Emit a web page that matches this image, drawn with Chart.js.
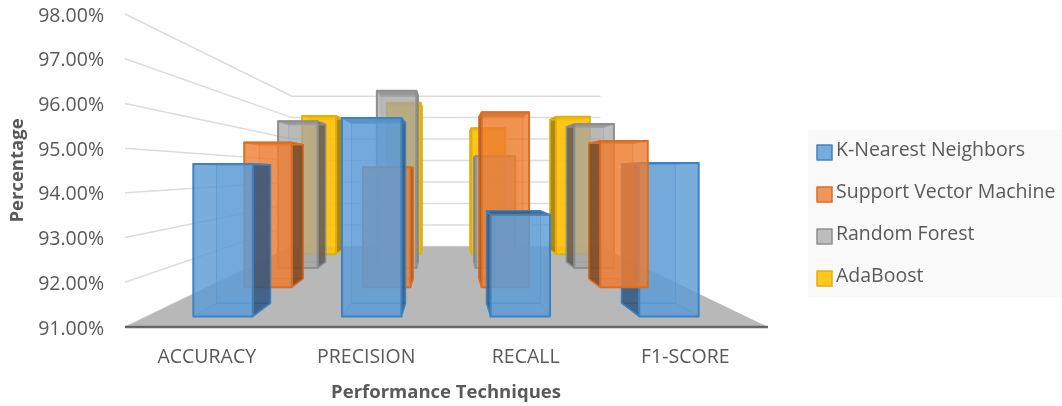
<!DOCTYPE html>
<html>
<head>
<meta charset="utf-8">
<title>Performance Techniques</title>
<style>
  html, body { margin: 0; padding: 0; background: #fff; }
  canvas { display: block; }
</style>
<script src="https://cdn.jsdelivr.net/npm/chart.js@4/dist/chart.umd.min.js"></script>
</head>
<body>
<canvas id="chart" width="1062" height="406"></canvas>
<script>
// Scores in percent, one array per classifier
var categories = ["ACCURACY", "PRECISION", "RECALL", "F1-SCORE"];
var knn = [94.66, 95.76, 93.44, 94.68];
var svm = [95.35, 94.61, 96.26, 95.40];
var randomForest = [96.30, 97.40, 95.04, 96.20];
var adaBoost = [96.83, 97.39, 96.31, 96.80];
var yMin = 91, yMax = 98;

var FONT = "'Open Sans', sans-serif";
var TEXT = "#595959";

// Camera: vanishing point and how fast things shrink with depth (z 0 = front, 1 = back)
var VX = 446, VY = 172, K = 1.083;
function project(x, y, z) {
    var s = 1 / (1 + K * z);
    return [VX + (x - VX) * s, VY + (y - VY) * s];
}

function poly(ctx, pts, fill, stroke, lw) {
    ctx.beginPath();
    pts.forEach(function (p, i) { i ? ctx.lineTo(p[0], p[1]) : ctx.moveTo(p[0], p[1]); });
    ctx.closePath();
    if (fill) { ctx.fillStyle = fill; ctx.fill(); }
    if (stroke) { ctx.strokeStyle = stroke; ctx.lineWidth = lw; ctx.lineJoin = "round"; ctx.stroke(); }
}

// Bars that sit on top of the nearer row: [dataset, category]
var drawnLast = [[1, 3]];

function drawBox(ctx, bar, row, o) {
    var x0 = bar.x - bar.width / 2, x1 = bar.x + bar.width / 2;
    var z0 = (row + 0.27) / 4, z1 = (row + 0.67) / 4;
    var top = bar.y, bot = bar.base;
    var f = function (x, y) { return project(x, y, z0); };
    var b = function (x, y) { return project(x, y, z1); };

    // back and floor of the box stay faint, they show through the front
    poly(ctx, [b(x0, top), b(x1, top), b(x1, bot), b(x0, bot)], o.back, o.inner, 1);
    poly(ctx, [f(x0, bot), f(x1, bot), b(x1, bot), b(x0, bot)], o.back, o.inner, 1);

    // only the side facing the centre can be seen
    var sx = bar.x < VX ? x1 : x0;
    poly(ctx, [f(sx, top), b(sx, top), b(sx, bot), f(sx, bot)], o.side, o.line, 1.5);
    poly(ctx, [f(x0, top), f(x1, top), b(x1, top), b(x0, top)], o.side, o.line, 1.5);
    poly(ctx, [f(x0, top), f(x1, top), f(x1, bot), f(x0, bot)], o.front, o.line, 2);
}

var faces = [
    { front: "rgba(91,155,213,0.82)", side: "rgba(38,78,120,0.78)", back: "rgba(91,155,213,0.2)", inner: "rgba(50,115,180,0.55)", line: "#3f82c0" },
    { front: "rgba(237,125,49,0.8)", side: "rgba(120,62,22,0.8)", back: "rgba(237,125,49,0.2)", inner: "rgba(220,100,30,0.5)", line: "#d96f26" },
    { front: "rgba(165,165,165,0.72)", side: "rgba(85,85,85,0.8)", back: "rgba(165,165,165,0.2)", inner: "rgba(130,130,130,0.4)", line: "#8f8f8f" },
    { front: "rgba(255,192,0,0.88)", side: "rgba(165,125,0,0.9)", back: "rgba(255,192,0,0.2)", inner: "rgba(220,165,0,0.5)", line: "#e3ae10" }
];

// Bar controller that keeps the library's layout but paints each element as a box in depth
class Bar3DController extends Chart.BarController {
    static id = "bar3d";
    static defaults = Chart.BarController.defaults;
    static overrides = Chart.BarController.overrides;
    draw() {
        var ctx = this.chart.ctx, row = this.index;
        this._cachedMeta.data.forEach(function (bar, i) {
            var late = drawnLast.some(function (d) { return d[0] === row && d[1] === i; });
            if (!late) drawBox(ctx, bar, row, faces[row]);
        });
    }
}
Chart.register(Bar3DController);

// Fixed plot frame, floor, wall gridlines, legend panel and swatches
var stage = {
    id: "stage",
    afterLayout: function (chart) {
        var xs = chart.scales.x, ys = chart.scales.y, lg = chart.legend;
        xs.left = 127; xs.right = 765; xs.width = 638;
        xs.top = 327; xs.bottom = 408;
        ys.top = 14; ys.bottom = 327; ys.height = 313;
        xs.configure();
        ys.configure();
        lg.left = 794.5; lg.right = 1062;
        lg.top = 18; lg.bottom = 408;
    },
    beforeDraw: function (chart) {
        var ctx = chart.ctx;
        ctx.fillStyle = "#f9f9f9";
        ctx.fillRect(808, 130, 254, 167);
    },
    beforeDatasetsDraw: function (chart) {
        var ctx = chart.ctx, xs = chart.scales.x, ys = chart.scales.y;
        var left = xs.left - 2, right = xs.right + 3;
        var base = ys.getPixelForValue(ys.min);

        ys.ticks.forEach(function (t) {
            var y = ys.getPixelForValue(t.value);
            var a = project(left, y, 0), b = project(left, y, 1), c = project(right, y, 1);
            ctx.beginPath();
            ctx.moveTo(a[0], a[1]); ctx.lineTo(b[0], b[1]); ctx.lineTo(c[0], c[1]);
            ctx.strokeStyle = "#dcdcdc";
            ctx.lineWidth = 1.5;
            ctx.stroke();
        });

        poly(ctx, [project(left, base, 0), project(right, base, 0), project(right, base, 1), project(left, base, 1)], "#b8b8b8");
        ctx.beginPath();
        ctx.moveTo(left, base); ctx.lineTo(right, base);
        ctx.strokeStyle = "#666";
        ctx.lineWidth = 2.5;
        ctx.stroke();
    },
    afterDatasetsDraw: function (chart) {
        drawnLast.forEach(function (d) {
            drawBox(chart.ctx, chart.getDatasetMeta(d[0]).data[d[1]], d[0], faces[d[0]]);
        });
    },
    afterDraw: function (chart) {
        // swatches are wider than the slot the legend leaves before its text
        var lg = chart.legend, x = lg.left + lg.options.labels.padding;
        lg.legendHitBoxes.forEach(function (h, i) {
            var ctx = chart.ctx, y = h.top + 2.5 + (h.height - 15) / 2;
            ctx.fillStyle = faces[i].front;
            ctx.strokeStyle = faces[i].line;
            ctx.lineWidth = 1.5;
            ctx.fillRect(x, y, 15, 15);
            ctx.strokeRect(x, y, 15, 15);
        });
    }
};

function dataset(label, data, i) {
    return {
        label: label,
        data: data,
        base: yMin,
        clip: false,
        backgroundColor: faces[i].front,
        borderColor: faces[i].line,
        borderWidth: 2,
        grouped: false,
        barPercentage: 0.4,
        categoryPercentage: 1
    };
}

new Chart(document.getElementById("chart"), {
    type: "bar3d",
    data: {
        labels: categories,
        datasets: [
            dataset("K-Nearest Neighbors", knn, 0),
            dataset("Support Vector Machine", svm, 1),
            dataset("Random Forest", randomForest, 2),
            dataset("AdaBoost", adaBoost, 3)
        ]
    },
    plugins: [stage],
    options: {
        responsive: false,
        animation: false,
        layout: { autoPadding: false, padding: { top: 4, right: 33, left: 0, bottom: 0 } },
        scales: {
            x: {
                offset: true,
                afterFit: function (s) { s.height = 79; },
                grid: { display: false },
                border: { display: false },
                ticks: { color: TEXT, font: { family: FONT, size: 19.5 }, padding: 11, maxRotation: 0 },
                title: { display: true, text: "Performance Techniques", color: TEXT, font: { family: FONT, size: 18.5, weight: "bold" }, padding: { top: 14 } }
            },
            y: {
                min: yMin,
                max: yMax,
                afterFit: function (s) { s.width = 127; },
                grid: { display: false },
                border: { display: false },
                ticks: {
                    stepSize: 1,
                    color: TEXT,
                    padding: 15,
                    labelOffset: 2,
                    font: { family: FONT, size: 19.5 },
                    callback: function (v) { return v.toFixed(2) + "%"; }
                },
                title: { display: true, text: "Percentage", color: TEXT, font: { family: FONT, size: 18.5, weight: "bold" }, padding: { top: 7 } }
            }
        },
        plugins: {
            tooltip: { enabled: false },
            legend: {
                position: "right",
                labels: {
                    boxWidth: 9.25,
                    boxHeight: 15,
                    padding: 22.5,
                    color: TEXT,
                    font: { family: FONT, size: 19.5 },
                    generateLabels: function (chart) {
                        var items = Chart.defaults.plugins.legend.labels.generateLabels(chart);
                        items.forEach(function (it) { it.fillStyle = "transparent"; it.strokeStyle = "transparent"; });
                        return items;
                    }
                }
            }
        }
    }
});
</script>
</body>
</html>
